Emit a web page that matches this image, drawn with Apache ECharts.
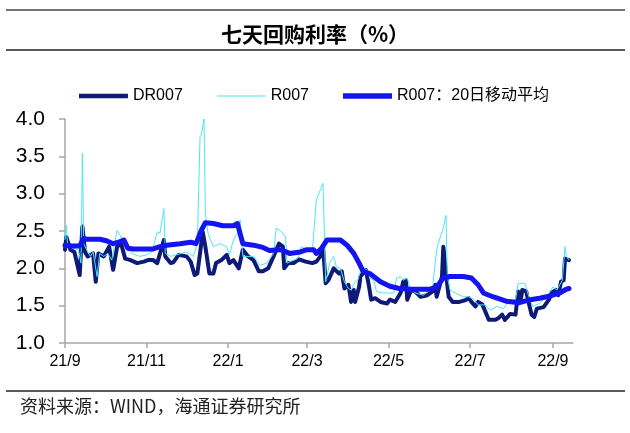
<!DOCTYPE html>
<html><head><meta charset="utf-8">
<script src="https://cdn.jsdelivr.net/npm/echarts@6/dist/echarts.min.js"></script>
<style>html,body{margin:0;padding:0;background:#fff}#c{width:630px;height:433px}</style>
</head><body><div id="c"></div>
<script>
// Axis range (calendar days)
const startDate = '2021-09-01';
const endDate = '2022-09-16';
const yTicks = [1.0, 1.5, 2.0, 2.5, 3.0, 3.5, 4.0];

// DR007
const drDates = ['2021-09-01','2021-09-02','2021-09-05','2021-09-08','2021-09-12','2021-09-14','2021-09-16','2021-09-18','2021-09-22','2021-09-24','2021-09-26','2021-09-30',
'2021-10-04','2021-10-07','2021-10-10','2021-10-13','2021-10-16','2021-10-20','2021-10-25','2021-10-30',
'2021-11-02','2021-11-06','2021-11-09','2021-11-14','2021-11-15','2021-11-19','2021-11-21','2021-11-25',
'2021-12-01','2021-12-04','2021-12-07','2021-12-09','2021-12-11','2021-12-13','2021-12-15','2021-12-18','2021-12-21','2021-12-23','2021-12-27','2021-12-31',
'2022-01-02','2022-01-05','2022-01-09','2022-01-12','2022-01-16','2022-01-20','2022-01-24','2022-01-27','2022-01-31',
'2022-02-04','2022-02-08','2022-02-11','2022-02-12','2022-02-15','2022-02-19','2022-02-23','2022-02-28',
'2022-03-05','2022-03-08','2022-03-11','2022-03-13','2022-03-15','2022-03-17','2022-03-21','2022-03-25','2022-03-27','2022-03-29',
'2022-04-01','2022-04-03','2022-04-05','2022-04-06','2022-04-09','2022-04-10','2022-04-14','2022-04-16','2022-04-18','2022-04-21','2022-04-25','2022-04-30',
'2022-05-02','2022-05-06','2022-05-10','2022-05-12','2022-05-14','2022-05-15','2022-05-18','2022-05-21','2022-05-25','2022-05-30',
'2022-06-03','2022-06-05','2022-06-06','2022-06-08','2022-06-10','2022-06-11','2022-06-13','2022-06-15','2022-06-18','2022-06-23','2022-06-27','2022-06-30',
'2022-07-02','2022-07-05','2022-07-07','2022-07-10','2022-07-12','2022-07-15','2022-07-20','2022-07-22','2022-07-25','2022-07-27','2022-07-31',
'2022-08-04','2022-08-06','2022-08-08','2022-08-09','2022-08-12','2022-08-14','2022-08-16','2022-08-18','2022-08-20','2022-08-25','2022-08-29','2022-08-31',
'2022-09-03','2022-09-05','2022-09-07','2022-09-09','2022-09-10','2022-09-13'];
const drValues = [2.25,2.42,2.25,2.22,1.91,2.56,2.22,2.16,2.2,1.82,2.2,2.16,
2.29,1.98,2.29,2.33,2.13,2.11,2.07,2.09,
2.11,2.11,2.07,2.38,2.16,2.07,2.08,2.18,
2.16,2.09,1.91,1.93,2.2,2.49,2.29,1.93,1.93,2.07,2.11,2.18,
2.07,2.11,2.0,2.25,2.16,2.11,1.96,1.96,2.0,
2.16,2.33,2.29,2.0,2.07,2.07,2.12,2.09,
2.07,2.09,2.16,2.29,1.8,1.84,2.0,1.93,1.96,1.73,
1.78,1.55,1.71,1.55,1.75,1.89,1.98,1.8,1.58,1.6,1.55,1.53,
1.58,1.55,1.67,1.82,1.84,1.58,1.71,1.69,1.62,1.64,
1.69,1.78,1.62,1.75,1.89,2.29,1.93,1.62,1.55,1.55,1.57,1.6,
1.55,1.49,1.55,1.52,1.44,1.31,1.31,1.33,1.38,1.31,1.39,
1.38,1.69,1.58,1.71,1.69,1.53,1.38,1.35,1.46,1.48,1.58,1.67,
1.71,1.64,1.82,1.84,2.13,2.11];

// R007
const rDates = ['2021-09-01','2021-09-02','2021-09-03','2021-09-07','2021-09-11','2021-09-13','2021-09-14','2021-09-15','2021-09-18','2021-09-20','2021-09-22','2021-09-25','2021-09-27','2021-09-30',
'2021-10-03','2021-10-06','2021-10-10','2021-10-12','2021-10-15','2021-10-17','2021-10-21','2021-10-27',
'2021-11-01','2021-11-05','2021-11-09','2021-11-11','2021-11-14','2021-11-15','2021-11-19','2021-11-27',
'2021-12-01','2021-12-06','2021-12-09','2021-12-11','2021-12-12','2021-12-14','2021-12-15','2021-12-17','2021-12-21','2021-12-26','2021-12-31',
'2022-01-02','2022-01-05','2022-01-08','2022-01-10','2022-01-12','2022-01-20','2022-01-25','2022-01-30',
'2022-02-04','2022-02-06','2022-02-10','2022-02-13','2022-02-14','2022-02-19','2022-02-22','2022-02-25',
'2022-03-01','2022-03-05','2022-03-08','2022-03-11','2022-03-13','2022-03-15','2022-03-18','2022-03-21','2022-03-23','2022-03-26','2022-03-29',
'2022-04-01','2022-04-03','2022-04-06','2022-04-08','2022-04-11','2022-04-15','2022-04-17','2022-04-20','2022-04-22','2022-04-27',
'2022-05-05','2022-05-07','2022-05-10','2022-05-12','2022-05-15','2022-05-17','2022-05-21','2022-05-27',
'2022-06-03','2022-06-06','2022-06-08','2022-06-11','2022-06-13','2022-06-14','2022-06-16','2022-06-20','2022-06-26','2022-06-30',
'2022-07-04','2022-07-07','2022-07-12','2022-07-16','2022-07-21','2022-07-26','2022-07-31',
'2022-08-04','2022-08-06','2022-08-11','2022-08-14','2022-08-17','2022-08-22','2022-08-27',
'2022-09-01','2022-09-04','2022-09-08','2022-09-10','2022-09-11','2022-09-13'];
const rValues = [2.38,2.58,2.29,2.27,2.25,2.07,3.54,2.33,2.22,2.16,2.22,1.89,2.2,2.16,
2.2,2.11,2.51,2.45,2.36,2.29,2.2,2.16,
2.18,2.22,2.49,2.47,2.8,2.2,2.16,2.2,
2.22,2.16,2.33,3.76,3.79,4.0,2.74,2.47,2.29,2.33,2.29,
2.18,2.38,2.47,2.65,2.16,2.16,2.04,2.07,
2.2,2.54,2.49,2.42,2.07,2.11,2.13,2.29,
2.25,2.22,2.92,3.05,3.14,1.82,2.07,2.16,2.02,2.0,1.82,
1.73,1.71,1.82,1.84,2.02,1.98,1.87,1.84,1.69,1.67,
1.67,1.87,1.89,1.84,1.87,1.75,1.67,1.64,
1.75,2.25,2.38,2.54,2.71,1.89,1.71,1.67,1.62,1.62,
1.58,1.51,1.51,1.44,1.49,1.46,1.58,
1.58,1.8,1.8,1.62,1.49,1.53,1.62,
1.75,1.71,1.84,2.29,2.16,2.11];

// R007 20-day moving average
const maDates = ['2021-09-01','2021-09-06','2021-09-12','2021-09-15','2021-09-17','2021-09-27','2021-10-02','2021-10-07','2021-10-11','2021-10-15','2021-10-18','2021-10-22',
'2021-11-06','2021-11-11','2021-11-16','2021-11-26','2021-12-04','2021-12-08','2021-12-12','2021-12-15','2021-12-21','2021-12-28',
'2022-01-05','2022-01-08','2022-01-12','2022-01-20','2022-01-27','2022-02-01','2022-02-08','2022-02-11','2022-02-16','2022-02-24',
'2022-03-01','2022-03-06','2022-03-08','2022-03-12','2022-03-16','2022-03-21','2022-03-26','2022-03-31',
'2022-04-05','2022-04-09','2022-04-12','2022-04-17','2022-04-25','2022-05-02','2022-05-09','2022-05-17',
'2022-06-01','2022-06-06','2022-06-11','2022-06-16','2022-06-26','2022-07-02','2022-07-07','2022-07-11','2022-07-18','2022-07-28',
'2022-08-07','2022-08-15','2022-08-22','2022-08-30','2022-09-06','2022-09-11','2022-09-13'];
const maValues = [2.31,2.3,2.3,2.4,2.39,2.39,2.37,2.33,2.35,2.38,2.27,2.26,
2.26,2.29,2.31,2.33,2.35,2.33,2.51,2.61,2.6,2.57,
2.57,2.6,2.33,2.31,2.28,2.24,2.25,2.24,2.2,2.22,
2.25,2.25,2.2,2.27,2.38,2.38,2.38,2.31,
2.2,2.07,1.96,1.93,1.82,1.76,1.73,1.72,
1.72,1.75,1.87,1.89,1.89,1.87,1.78,1.67,1.62,1.56,
1.54,1.58,1.6,1.63,1.67,1.72,1.73];

const names = ['DR007', 'R007', 'R007：20日移动平均'];
const colors = ['#0d1a78', '#4de6f2', '#1414f0'];

// build calendar category list
function fmt(d){const m=d.getUTCMonth()+1, day=d.getUTCDate();return d.getUTCFullYear()+'-'+(m<10?'0':'')+m+'-'+(day<10?'0':'')+day;}
const categories = [];
{
  const s = new Date(startDate+'T00:00:00Z'), e = new Date(endDate+'T00:00:00Z');
  for (let t = s.getTime(); t <= e.getTime(); t += 86400000) categories.push(fmt(new Date(t)));
}
const isTick = (i, v) => v.slice(8) === '01' && (parseInt(v.slice(5,7),10) % 2 === 1);
const zip = (a, b) => a.map((d, i) => [d, b[i]]);
// legend icon: a bar of given thickness centred in a 49x14 box
const barIcon = t => 'path://M0,0h0.01v0.01h-0.01z M0,' + (7 - t/2) + 'h49v' + t + 'h-49z M0,14h0.01v0.01h-0.01z';

const chart = echarts.init(document.getElementById('c'), null, {renderer:'canvas'});
const latin = 'Liberation Sans, Arial, Noto Sans CJK SC';
chart.setOption({
  animation: false,
  backgroundColor: '#fff',
  title: {
    text: '七天回购利率（%）', left: 'center', top: 19,
    textStyle: {fontSize: 21, fontWeight: 'bold', color: '#000', fontFamily: 'Noto Sans CJK SC'}
  },
  legend: {
    left: 74, top: 83, itemWidth: 49, itemHeight: 14, itemGap: 34,
    textStyle: {fontSize: 16, color: '#000', fontFamily: latin},
    data: [
      {name: names[0], icon: barIcon(4.5), itemStyle: {color: colors[0]}},
      {name: names[1], icon: barIcon(1.2), itemStyle: {color: colors[1]}},
      {name: names[2], icon: barIcon(5.5), itemStyle: {color: colors[2]}}
    ]
  },
  grid: {left: 65, right: 57, top: 119, bottom: 90},
  xAxis: {
    type: 'category', data: categories, boundaryGap: false,
    axisLine: {lineStyle: {color: '#a6a6a6', width: 1.5}},
    axisTick: {interval: isTick, length: 5, lineStyle: {color: '#a6a6a6', width: 1.5}},
    axisLabel: {
      interval: isTick, margin: 11, fontSize: 16, color: '#000', fontFamily: latin,
      formatter: v => v.slice(2,4) + '/' + parseInt(v.slice(5,7),10)
    },
    splitLine: {show: false}
  },
  yAxis: {
    type: 'value', min: yTicks[0], max: yTicks[yTicks.length-1], interval: 0.5,
    axisLine: {show: true, lineStyle: {color: '#a6a6a6', width: 1.5}},
    axisTick: {show: true, length: 6, lineStyle: {color: '#a6a6a6', width: 1.5}},
    axisLabel: {margin: 20, fontSize: 21, color: '#000', fontFamily: latin, formatter: v => v.toFixed(1)},
    splitLine: {show: false}
  },
  series: [
    {name: names[0], type: 'line', data: zip(drDates, drValues), symbol: 'none', showSymbol: false,
     lineStyle: {color: colors[0], width: 4, cap: 'round', join: 'round'}, itemStyle: {color: colors[0]}},
    {name: names[1], type: 'line', data: zip(rDates, rValues), symbol: 'none', showSymbol: false,
     lineStyle: {color: colors[1], width: 1}, itemStyle: {color: colors[1]}},
    {name: names[2], type: 'line', data: zip(maDates, maValues), symbol: 'none', showSymbol: false,
     lineStyle: {color: colors[2], width: 5, cap: 'round', join: 'round'}, itemStyle: {color: colors[2]}}
  ],
  graphic: [
    {type: 'line', shape: {x1: 6, y1: 10, x2: 625, y2: 10}, style: {stroke: '#444', lineWidth: 1.5}},
    {type: 'line', shape: {x1: 6, y1: 50, x2: 625, y2: 50}, style: {stroke: '#222', lineWidth: 1.5}},
    {type: 'line', shape: {x1: 6, y1: 391, x2: 625, y2: 391}, style: {stroke: '#222', lineWidth: 1.5}},
    {type: 'text', left: 20, top: 397, style: {text: '资料来源：WIND，海通证券研究所', fontSize: 18, fill: '#222', fontFamily: 'Noto Sans CJK SC'}}
  ]
});
</script></body></html>
